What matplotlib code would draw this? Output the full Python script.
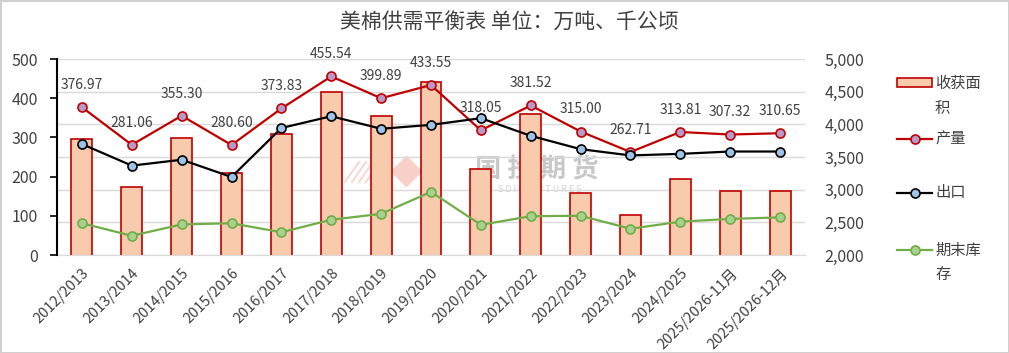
import matplotlib
matplotlib.use('Agg')
import matplotlib.pyplot as plt
from matplotlib.lines import Line2D
from matplotlib.patches import Rectangle
from matplotlib.ticker import FuncFormatter

plt.rcParams['font.family'] = ['Noto Sans CJK SC', 'DejaVu Sans']

# data
seasons = ['2012/2013', '2013/2014', '2014/2015', '2015/2016', '2016/2017',
           '2017/2018', '2018/2019', '2019/2020', '2020/2021', '2021/2022',
           '2022/2023', '2023/2024', '2024/2025', '2025/2026-11月', '2025/2026-12月']
area = [3776, 3045, 3786, 3260, 3847, 4495, 4132, 4648, 3316, 4153,
        2954, 2612, 3158, 2975, 2975]          # 收获面积, 千公顷 (right axis)
production = [376.97, 281.06, 355.30, 280.60, 373.83, 455.54, 399.89, 433.55,
              318.05, 381.52, 315.00, 262.71, 313.81, 307.32, 310.65]
exports = [283, 228, 243, 199, 324, 354, 322, 332, 349, 304, 270, 254, 258, 264, 264]
stocks = [81, 49, 78, 81, 58, 90, 105, 161, 77, 99, 100, 67, 85, 92, 96]

W, H = 1009, 353
fig = plt.figure(figsize=(W / 100, H / 100), dpi=100)
fig.patch.set_edgecolor('#D0D0D0')
fig.patch.set_linewidth(2)

def fx(x):
    return x / W

def fy(y):
    return 1 - y / H

rect = [fx(57), fy(255), fx(805) - fx(57), fy(59) - fy(255)]
ax2 = fig.add_axes(rect)   # bars, right axis, drawn underneath
ax = ax2.twinx()           # lines, left axis, drawn on top
ax.yaxis.set_label_position('left')
ax.yaxis.tick_left()
ax2.yaxis.set_label_position('right')
ax2.yaxis.tick_right()
ax2.set_zorder(0)
ax.set_zorder(1)
ax.patch.set_visible(False)

x = list(range(len(seasons)))
text_c = '#404040'
lw = 1.6
ms = 6.5

# bars
ax2.bar(x, area, width=0.42, color='#F8CBAD', edgecolor='#C00000',
        linewidth=1.2, zorder=2)
ax2.set_ylim(2000, 5000)
ax2.set_yticks(range(2000, 5001, 500))
ax2.yaxis.set_major_formatter(FuncFormatter(lambda v, p: f'{int(v):,}'))
ax2.grid(axis='y', color='#D9D9D9', linewidth=1, zorder=0)
ax2.set_axisbelow(True)
ax2.tick_params(axis='y', length=0, pad=14, labelsize=11.5, labelcolor=text_c)

# lines
ax.plot(x, production, color='#C00000', linewidth=lw, marker='o', markersize=ms,
        markerfacecolor='#B79AC8', markeredgecolor='#C00000', markeredgewidth=1.2)
ax.plot(x, exports, color='black', linewidth=lw, marker='o', markersize=ms,
        markerfacecolor='#9DC3E6', markeredgecolor='black', markeredgewidth=1.2)
ax.plot(x, stocks, color='#70AD47', linewidth=lw, marker='o', markersize=ms,
        markerfacecolor='#A9D18E', markeredgecolor='#70AD47', markeredgewidth=1.2)

for xi, v in zip(x, production):
    ax.annotate(f'{v:.2f}', (xi, v), xytext=(0, 16), textcoords='offset points',
                ha='center', va='center', fontsize=10, color=text_c)

ax.set_ylim(0, 500)
ax.set_yticks(range(0, 501, 100))
ax.set_xlim(-0.5, len(seasons) - 0.5)
ax.tick_params(axis='y', direction='out', length=5, width=1.2, color='black',
               pad=9, labelsize=11.5, labelcolor=text_c)

ax2.set_xticks(x)
ax2.set_xticklabels(seasons, rotation=45, ha='right', rotation_mode='anchor',
                    fontsize=10.5, color=text_c)
ax2.tick_params(axis='x', length=0, pad=8)
ax.tick_params(axis='x', length=0, labelbottom=False)

for a in (ax, ax2):
    for s in a.spines.values():
        s.set_visible(False)
ax.spines['left'].set_visible(True)
ax.spines['left'].set_linewidth(1.5)
ax.spines['left'].set_color('black')
ax2.spines['bottom'].set_visible(True)
ax2.spines['bottom'].set_color('#D9D9D9')

# watermark
ax2.text(fx(537), fy(170), '国 投 期 货', transform=fig.transFigure, fontsize=19,
         fontweight='bold', color='#C8C8C8', ha='center', va='center', zorder=0.5)
ax2.text(fx(540), fy(190), 'S D I C   F U T U R E S', transform=fig.transFigure,
         fontsize=6.5, color='#D2D2D2', ha='center', va='center', zorder=0.5)
ax2.plot([fx(406)], [fy(171)], marker='D', markersize=15, color='#F8D0CA',
         transform=fig.transFigure, zorder=0.5)
for k in range(5):
    x0 = 345 + k * 7
    ax2.plot([fx(x0), fx(x0 + 14)], [fy(182), fy(162)], color='#F8D8D4',
             linewidth=1.5, transform=fig.transFigure, zorder=0.5)

# title
fig.text(fx(509), fy(22), '美棉供需平衡表 单位：万吨、千公顷', ha='center', va='center',
         fontsize=15, color=text_c)

# legend (hand placed, Excel style wrapped labels)
lx0, lx1, tx = fx(897), fx(932), fx(935)
fig.add_artist(Rectangle((lx0, fy(87)), lx1 - lx0, fy(78) - fy(87),
                         transform=fig.transFigure, facecolor='#F8CBAD',
                         edgecolor='#C00000', linewidth=1.2))
leg_lines = [(fy(139), '#C00000', '#B79AC8'),
             (fy(193), 'black', '#9DC3E6'),
             (fy(250), '#70AD47', '#A9D18E')]
for yy, lc, mf in leg_lines:
    fig.add_artist(Line2D([lx0, lx1], [yy, yy], transform=fig.transFigure,
                          color=lc, linewidth=lw))
    fig.add_artist(Line2D([(lx0 + lx1) / 2], [yy], transform=fig.transFigure,
                          marker='o', markersize=ms, markerfacecolor=mf,
                          markeredgecolor=lc, markeredgewidth=1.2))
for yy, s in [(83, '收获面'), (108, '积'), (139, '产量'), (193, '出口'),
              (250, '期末库'), (275, '存')]:
    fig.text(tx, fy(yy), s, ha='left', va='center', fontsize=11, color=text_c)

fig.savefig('out.png', dpi=100)
